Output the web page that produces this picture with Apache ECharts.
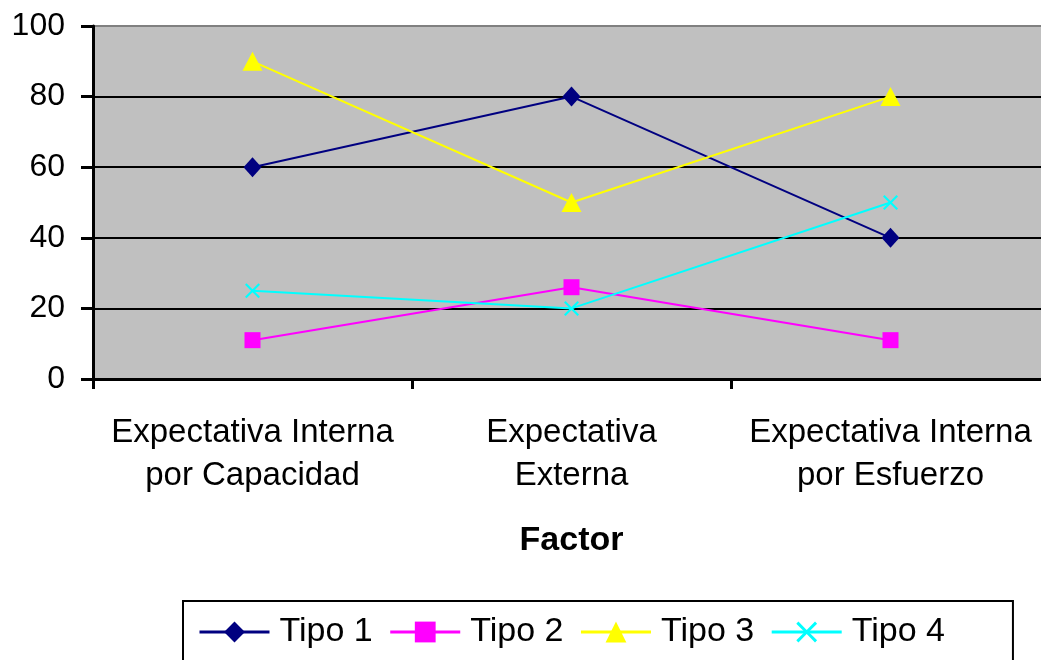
<!DOCTYPE html>
<html>
<head>
<meta charset="utf-8">
<script src="https://cdn.jsdelivr.net/npm/echarts@6/dist/echarts.min.js"></script>
<style>
* { margin: 0; padding: 0; }
html, body { width: 1041px; height: 660px; background: #fff; overflow: hidden; }
#chart { width: 1041px; height: 660px; }
</style>
</head>
<body>
<div id="chart"></div>
<script>
// categorias del eje x
var factores = ['Expectativa Interna\npor Capacidad', 'Expectativa\nExterna', 'Expectativa Interna\npor Esfuerzo']
// valores por tipo
var tipo1 = [60, 80, 40]
var tipo2 = [11, 26, 11]
var tipo3 = [90, 50, 80]
var tipo4 = [25, 20, 50]
var yTicks = [0, 20, 40, 60, 80, 100]

var fuente = '"Liberation Sans", Arial, sans-serif'
var cruz = 'path://M0,1L1,0L5,4L9,0L10,1L6,5L10,9L9,10L5,6L1,10L0,9L4,5Z'

var chart = echarts.init(document.getElementById('chart'))

function serie(nombre, datos, color, simbolo, tam) {
  return {
    name: nombre,
    type: 'line',
    data: datos,
    symbol: simbolo,
    symbolSize: tam,
    showAllSymbol: true,
    lineStyle: { color: color, width: 2 },
    itemStyle: { color: color, borderWidth: 0 },
    emphasis: { disabled: true },
    animation: false
  }
}

chart.setOption({
  animation: false,
  textStyle: { fontFamily: fuente },
  grid: {
    left: 93,
    width: 957, // el area sigue un poco fuera del borde derecho
    top: 26,
    bottom: 281,
    outerBoundsMode: 'none',
    show: true,
    backgroundColor: '#C0C0C0',
    borderWidth: 0
  },
  legend: {
    left: 183,
    top: 601,
    padding: [14, 68, 30, 15],
    borderColor: '#000',
    borderWidth: 2,
    itemWidth: 70,
    itemHeight: 26,
    itemGap: 16,
    lineStyle: { width: 3 },
    textStyle: { fontSize: 34, color: '#000', fontFamily: fuente, padding: [0, 0, 0, 5] },
    data: ['Tipo 1', 'Tipo 2', 'Tipo 3', 'Tipo 4']
  },
  xAxis: {
    type: 'category',
    data: factores,
    boundaryGap: true,
    name: 'Factor',
    nameLocation: 'middle',
    nameGap: 145,
    nameTextStyle: { fontSize: 34, fontWeight: 'bold', color: '#000', fontFamily: fuente },
    axisLine: { lineStyle: { color: '#000', width: 3 } },
    axisTick: { show: true, interval: 0, length: 10, lineStyle: { color: '#000', width: 3 } },
    axisLabel: { interval: 0, fontSize: 33, color: '#000', margin: 32, lineHeight: 43, fontFamily: fuente }
  },
  yAxis: {
    type: 'value',
    min: yTicks[0],
    max: yTicks[yTicks.length - 1],
    interval: 20,
    axisLine: { show: true, lineStyle: { color: '#000', width: 3 } },
    axisTick: { show: true, length: 12, lineStyle: { color: '#000', width: 3 } },
    axisLabel: { fontSize: 32, color: '#000', margin: 28, fontFamily: fuente },
    splitLine: {
      show: true,
      lineStyle: { color: ['#000', '#000', '#000', '#000', '#000', '#808080'], width: 2 }
    }
  },
  series: [
    serie('Tipo 1', tipo1, '#000080', 'diamond', [18, 20]),
    serie('Tipo 2', tipo2, '#FF00FF', 'rect', 16),
    serie('Tipo 3', tipo3, '#FFFF00', 'triangle', [20, 19]),
    serie('Tipo 4', tipo4, '#00FFFF', cruz, 15)
  ]
})
</script>
</body>
</html>
